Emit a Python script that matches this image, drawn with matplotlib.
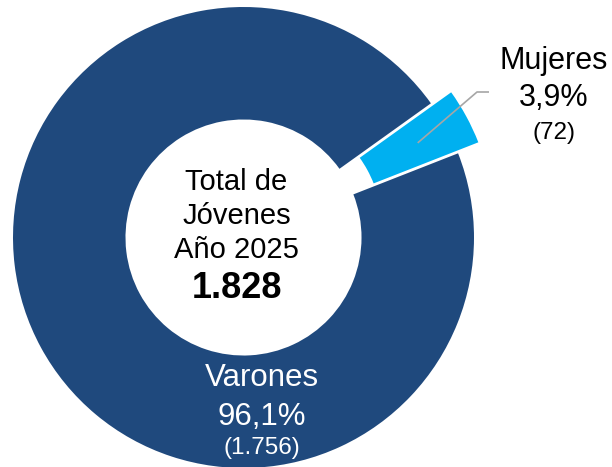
import numpy as np
import matplotlib
matplotlib.use("Agg")
import matplotlib.pyplot as plt

plt.rcParams['font.family'] = ['Liberation Sans', 'DejaVu Sans']

# data
categories = ['Varones', 'Mujeres']
counts = [1756, 72]
percent_labels = ['96,1%', '3,9%']
count_labels = ['(1.756)', '(72)']
total_label = '1.828'
colors = ['#1F497D', '#00B0F0']

W, H = 612, 467
CX, CY, R = 243.5, 237.5, 230.5  # pie center / radius in pixels


def px(x, y):
    # pixel position (from top-left) -> data coords
    return (x - CX) / R, (CY - y) / R


fig = plt.figure(figsize=(W / 100, H / 100), dpi=100)
ax = fig.add_axes([0, 0, 1, 1])

start = 35.6
wedges, _ = ax.pie(counts, colors=colors, startangle=start,
                   counterclock=True, explode=[0, 0.1], radius=1,
                   wedgeprops=dict(width=0.488, linewidth=0))

ax.set_xlim(-CX / R, (W - CX) / R)
ax.set_ylim((CY - H) / R, CY / R)
ax.set_aspect('auto')
ax.axis('off')

# center text
for txt, yb, size, weight in [('Total de', 190, 21, 'normal'),
                              ('Jóvenes', 224, 21, 'normal'),
                              ('Año 2025', 258.5, 21, 'normal'),
                              (total_label, 298.5, 26, 'bold')]:
    x, y = px(236.5, yb)
    ax.text(x, y, txt, ha='center', va='baseline', fontsize=size,
            fontweight=weight, color='black')

# Varones label (inside ring)
for txt, yb, size in [(categories[0], 386.5, 22.5),
                      (percent_labels[0], 425, 22.5),
                      (count_labels[0], 454, 17.5)]:
    x, y = px(261.5, yb)
    ax.text(x, y, txt, ha='center', va='baseline', fontsize=size,
            color='white')

# Mujeres label (outside)
for txt, yb, size in [(categories[1], 68.5, 22),
                      (percent_labels[1], 106.5, 22),
                      (count_labels[1], 139, 17.5)]:
    x, y = px(553.5, yb)
    ax.text(x, y, txt, ha='center', va='baseline', fontsize=size,
            color='black')

# leader line from the Mujeres wedge
w = wedges[1]
mid = np.deg2rad((w.theta1 + w.theta2) / 2)
cx, cy = w.center
p0 = (cx + 0.76 * np.cos(mid), cy + 0.76 * np.sin(mid))
p1 = px(477, 92)
p2 = px(489, 92)
ax.plot([p0[0], p1[0], p2[0]], [p0[1], p1[1], p2[1]],
        color='#A6A6A6', lw=1.2, solid_capstyle='butt')

fig.savefig('out.png', dpi=100)
